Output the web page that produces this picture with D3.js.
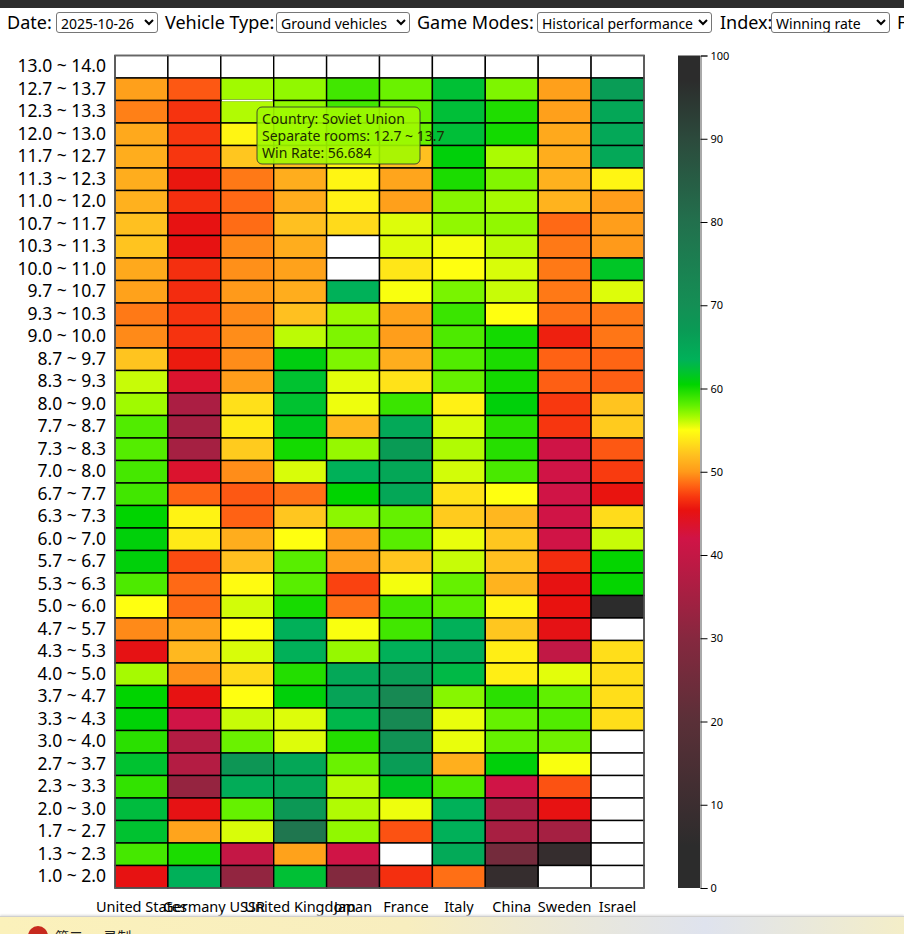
<!DOCTYPE html>
<html>
<head>
<meta charset="utf-8">
<script src="https://cdn.jsdelivr.net/npm/d3@7/dist/d3.min.js"></script>
<style>
  html, body { margin: 0; padding: 0; width: 904px; height: 934px; overflow: hidden; background: #fff; }
  body { font-family: "Noto Sans", sans-serif; color: #000; position: relative; }
  #topbar { height: 8px; background: #2c2c2c; }
  #controls { position: absolute; top: 8px; left: 0; width: 904px; height: 28px; overflow: hidden; white-space: nowrap; }
  #controls span { position: absolute; top: 1px; font-size: 18px; line-height: 27px; }
  #controls select { position: absolute; top: 4px; height: 21px; font-family: "Noto Sans", sans-serif; font-size: 14px; padding: 0; background: #fff; border: 1px solid #767676; border-radius: 3px; }
  #chart { position: absolute; top: 0; left: 0; }
  #footer { position: absolute; left: 0; top: 916px; width: 904px; height: 18px; overflow: hidden;
            background: linear-gradient(90deg, #fbf1bb 0%, #f8eebf 45%, #dfe3ee 78%, #f4eec8 100%);
            border-top: 1px solid #cfcfcf; box-shadow: 0 -1px 2px #ddd; }
  #footer i { position: absolute; left: 28px; top: 9px; width: 20px; height: 20px; border-radius: 50%; background: #c72a1e; }
  #footer b { position: absolute; left: 55px; top: 9px; font: 14px "Noto Sans CJK SC", sans-serif; color: #222; }
</style>
</head>
<body>
<div id="topbar"></div>
<div id="controls"></div>
<div id="chart"></div>
<div id="footer"><i></i><b>第二 · 录制</b></div>

<script>

var countries = ["United States", "Germany", "USSR", "United Kingdom", "Japan", "France", "Italy", "China", "Sweden", "Israel"];

var rooms = ["13.0 ~ 14.0", "12.7 ~ 13.7", "12.3 ~ 13.3", "12.0 ~ 13.0", "11.7 ~ 12.7", "11.3 ~ 12.3", "11.0 ~ 12.0",
  "10.7 ~ 11.7", "10.3 ~ 11.3", "10.0 ~ 11.0", "9.7 ~ 10.7", "9.3 ~ 10.3", "9.0 ~ 10.0", "8.7 ~ 9.7", "8.3 ~ 9.3",
  "8.0 ~ 9.0", "7.7 ~ 8.7", "7.3 ~ 8.3", "7.0 ~ 8.0", "6.7 ~ 7.7", "6.3 ~ 7.3", "6.0 ~ 7.0", "5.7 ~ 6.7", "5.3 ~ 6.3",
  "5.0 ~ 6.0", "4.7 ~ 5.7", "4.3 ~ 5.3", "4.0 ~ 5.0", "3.7 ~ 4.7", "3.3 ~ 4.3", "3.0 ~ 4.0", "2.7 ~ 3.7", "2.3 ~ 3.3",
  "2.0 ~ 3.0", "1.7 ~ 2.7", "1.3 ~ 2.3", "1.0 ~ 2.0"];

// one line per room, same order as countries, null = no vehicles (white cell)
var winRates = [
  [null, null, null, null, null, null, null, null, null, null],
  [50.3, 48.0, 56.684, 57.0, 58.8, 57.8, 62.2, 57.4, 50.3, 66.5],
  [49.2, 46.8, 56.4, 57.0, 58.8, 57.8, 62.3, 59.7, 50.3, 65.0],
  [50.8, 46.9, 54.5, 57.0, 58.5, 57.8, 62.3, 60.0, 50.8, 64.8],
  [51.0, 46.9, 52.3, 52.0, 54.5, 52.0, 60.8, 56.5, 51.0, 64.8],
  [51.0, 45.6, 49.0, 51.0, 54.5, 50.6, 59.8, 57.3, 51.2, 54.5],
  [51.2, 46.6, 48.5, 51.0, 54.3, 50.3, 57.2, 56.6, 51.3, 50.2],
  [52.0, 45.2, 48.6, 52.0, 53.2, 55.6, 57.0, 57.0, 48.5, 50.2],
  [52.2, 45.2, 49.5, 51.0, null, 55.6, 55.2, 56.2, 49.0, 50.0],
  [50.8, 46.6, 49.7, 50.4, null, 53.8, 55.0, 55.7, 49.0, 61.7],
  [50.4, 46.5, 50.0, 51.0, 63.5, 55.1, 57.5, 56.0, 49.0, 55.6],
  [49.0, 46.8, 49.5, 52.0, 56.8, 50.4, 59.0, 55.0, 48.8, 49.0],
  [49.5, 46.8, 49.6, 56.2, 57.4, 50.2, 58.5, 60.0, 46.0, 48.9],
  [52.2, 45.8, 49.6, 61.0, 57.4, 51.0, 58.4, 59.8, 48.3, 48.4],
  [56.0, 43.5, 50.2, 62.0, 55.5, 53.6, 57.9, 60.0, 48.2, 48.2],
  [56.7, 36.0, 53.5, 62.0, 55.3, 59.0, 54.3, 60.8, 47.0, 52.2],
  [58.4, 35.0, 54.0, 61.3, 51.5, 64.7, 55.7, 59.4, 46.9, 52.5],
  [58.3, 35.0, 52.5, 60.0, 56.9, 66.8, 56.4, 59.5, 41.8, 48.0],
  [58.7, 43.5, 49.6, 55.7, 63.5, 65.0, 55.8, 58.6, 42.0, 47.1],
  [58.8, 48.4, 48.0, 48.8, 60.5, 65.0, 53.6, 55.0, 42.0, 45.5],
  [60.5, 54.4, 48.3, 52.3, 57.1, 57.9, 52.5, 51.5, 42.0, 53.3],
  [60.8, 54.0, 51.0, 55.0, 50.3, 58.2, 55.4, 52.3, 42.0, 56.0],
  [60.8, 47.6, 52.0, 58.2, 50.3, 52.3, 56.0, 52.0, 46.5, 60.4],
  [58.5, 48.5, 54.8, 58.2, 47.3, 55.2, 57.9, 51.3, 45.2, 60.4],
  [55.0, 48.6, 55.8, 59.9, 48.8, 58.8, 58.1, 54.5, 45.4, 100],
  [49.5, 50.4, 55.0, 63.7, 55.1, 58.8, 63.7, 52.3, 45.0, null],
  [45.1, 51.6, 55.7, 63.7, 56.9, 63.7, 64.4, 54.2, 39.5, 53.4],
  [56.6, 49.7, 53.2, 59.6, 64.8, 66.5, 62.8, 54.2, 55.5, 53.4],
  [60.5, 45.2, 55.0, 60.8, 65.6, 72.0, 57.2, 59.4, 58.0, 53.4],
  [60.7, 42.0, 56.0, 55.6, 63.0, 72.0, 55.4, 57.9, 58.4, 53.4],
  [59.4, 37.5, 57.8, 55.6, 59.6, 69.0, 55.4, 57.9, 57.7, null],
  [62.0, 37.5, 68.0, 65.0, 57.8, 66.5, 51.1, 60.8, 55.1, null],
  [59.2, 32.5, 64.2, 65.0, 56.3, 61.5, 58.5, 42.0, 47.8, null],
  [62.5, 45.1, 57.9, 67.5, 56.4, 55.3, 63.5, 36.5, 45.2, null],
  [62.0, 50.5, 55.7, 78.0, 57.0, 47.8, 63.6, 35.5, 35.0, null],
  [58.7, 59.8, 40.0, 50.4, 42.0, null, 64.5, 26.0, 8.0, null],
  [45.2, 63.6, 32.0, 62.2, 29.0, 46.6, 48.7, 8.0, null, null]
];

var colorStops = [0, 5, 20, 30, 42, 45.4, 47, 48.3, 50, 52, 53.5, 55, 56.7, 58, 60.5, 62, 63.5, 67, 70, 80, 90, 97, 100];
var colorRange = ["#2c2c2c", "#2c2c2c", "#5a3038", "#86283f", "#d01446", "#e8120f", "#f8380f", "#ff6214", "#ff9a1a",
  "#ffc020", "#ffe01a", "#ffff10", "#a0fa00", "#60f000", "#00d400", "#00c230", "#00b159", "#0a9a55", "#148f55",
  "#22704d", "#2c4a3c", "#2c2c2c", "#2c2c2c"];

var colorTicks = [0, 10, 20, 30, 40, 50, 60, 70, 80, 90, 100];

// header controls, same look as the page
var controlItems = [
  { label: "Date:", lx: 7, sx: 56, sw: 102, opt: "2025-10-26" },
  { label: "Vehicle Type:", lx: 165, sx: 276, sw: 134, opt: "Ground vehicles" },
  { label: "Game Modes:", lx: 417, sx: 537, sw: 175, opt: "Historical performance" },
  { label: "Index:", lx: 720, sx: 771, sw: 119, opt: "Winning rate" },
  { label: "F", lx: 897 }
];

var controls = d3.select("#controls");
controlItems.forEach(function(c){
  controls.append("span").style("left", c.lx + "px").text(c.label);
  if (c.opt) {
    controls.append("select")
      .style("left", c.sx + "px")
      .style("width", c.sw + "px")
      .append("option").text(c.opt);
  }
});

//=========================================================================
// Set Dimensions
//=========================================================================
var width = 904,
    height = 934,
    margin = { top: 55.5, left: 115, gridRight: 644, bottom: 888 },
    barLeft = 678,
    barRight = 700;

var svg = d3.select("#chart").append("svg")
  .attr("width", width)
  .attr("height", height)
  .style("display", "block");

var x = d3.scaleBand().domain(countries).range([margin.left, margin.gridRight]);
var y = d3.scaleBand().domain(rooms).range([margin.top, margin.bottom]);
var colorScale = d3.scaleLinear().domain(colorStops).range(colorRange);

//=========================================================================
// Cells
//=========================================================================
var cells = [];
winRates.forEach(function(row, r){
  row.forEach(function(v, c){
    cells.push({ room: rooms[r], country: countries[c], value: v });
  });
});

svg.append("g").selectAll("rect")
  .data(cells)
  .enter()
  .append("rect")
  .attr("x", function(d){ return x(d.country); })
  .attr("y", function(d){ return y(d.room); })
  .attr("width", x.bandwidth())
  .attr("height", y.bandwidth())
  .attr("fill", function(d){ return d.value === null ? "#fff" : colorScale(d.value); })
  .attr("stroke", "#000")
  .attr("stroke-width", 1.4);

// outer edge of the grid is lighter than the inner lines
svg.append("rect")
  .attr("x", margin.left)
  .attr("y", margin.top)
  .attr("width", margin.gridRight - margin.left)
  .attr("height", margin.bottom - margin.top)
  .attr("fill", "none")
  .attr("stroke", "#666")
  .attr("stroke-width", 1.4);

//=========================================================================
// Axes
//=========================================================================
var yAxis = svg.append("g")
  .attr("transform", "translate(" + margin.left + ",0)")
  .call(d3.axisLeft(y).tickSize(0).tickPadding(9));
yAxis.select(".domain").remove();
yAxis.selectAll("text").style("font-size", "17.5px").style("font-family", "'Noto Sans', sans-serif");

var xAxis = svg.append("g")
  .attr("transform", "translate(0," + margin.bottom + ")")
  .call(d3.axisBottom(x).tickSize(0).tickPadding(13.5));
xAxis.select(".domain").remove();
xAxis.selectAll("text").style("font-size", "14.5px").style("font-family", "'Noto Sans', sans-serif");

//=========================================================================
// Colour bar
//=========================================================================
var barScale = d3.scaleLinear().domain([0, 100]).range([margin.bottom, margin.top]);

var gradient = svg.append("defs").append("linearGradient")
  .attr("id", "bar-gradient")
  .attr("x1", 0).attr("x2", 0).attr("y1", 1).attr("y2", 0);

gradient.selectAll("stop")
  .data(colorStops)
  .enter()
  .append("stop")
  .attr("offset", function(d){ return (d / 100) * 100 + "%"; })
  .attr("stop-color", function(d){ return colorScale(d); });

svg.append("rect")
  .attr("x", barLeft)
  .attr("y", margin.top)
  .attr("width", barRight - barLeft)
  .attr("height", margin.bottom - margin.top)
  .attr("fill", "url(#bar-gradient)");

var barAxis = svg.append("g")
  .attr("transform", "translate(" + (barRight + 0.5) + ",0)")
  .call(d3.axisRight(barScale).tickValues(colorTicks).tickSize(7).tickPadding(3));
barAxis.select(".domain").attr("stroke", "#555");
barAxis.selectAll("text").style("font-size", "11px").style("font-family", "'Noto Sans', sans-serif");

//=========================================================================
// Hovered cell and tooltip
//=========================================================================
var hoverCountry = "USSR",
    hoverRoom = "12.7 ~ 13.7",
    hoverValue = winRates[rooms.indexOf(hoverRoom)][countries.indexOf(hoverCountry)];

svg.append("line")
  .attr("x1", x(hoverCountry) + 1)
  .attr("x2", x(hoverCountry) + x.bandwidth() - 1)
  .attr("y1", y(hoverRoom) + y.bandwidth())
  .attr("y2", y(hoverRoom) + y.bandwidth())
  .attr("stroke", "#fff")
  .attr("stroke-width", 1.4);

var tip = svg.append("g").attr("transform", "translate(257,107)");

tip.append("rect")
  .attr("width", 163)
  .attr("height", 57)
  .attr("rx", 5)
  .attr("fill", colorScale(hoverValue))
  .attr("fill-opacity", 0.9)
  .attr("stroke", "#333")
  .attr("stroke-opacity", 0.85);

tip.selectAll("text")
  .data(["Country: Soviet Union", "Separate rooms: " + hoverRoom, "Win Rate: " + hoverValue])
  .enter()
  .append("text")
  .attr("x", 5)
  .attr("y", function(d, i){ return 17 + i * 17; })
  .attr("fill", "#1c2a00")
  .style("font-size", "14px")
  .text(function(d){ return d; });

</script>
</body>
</html>
